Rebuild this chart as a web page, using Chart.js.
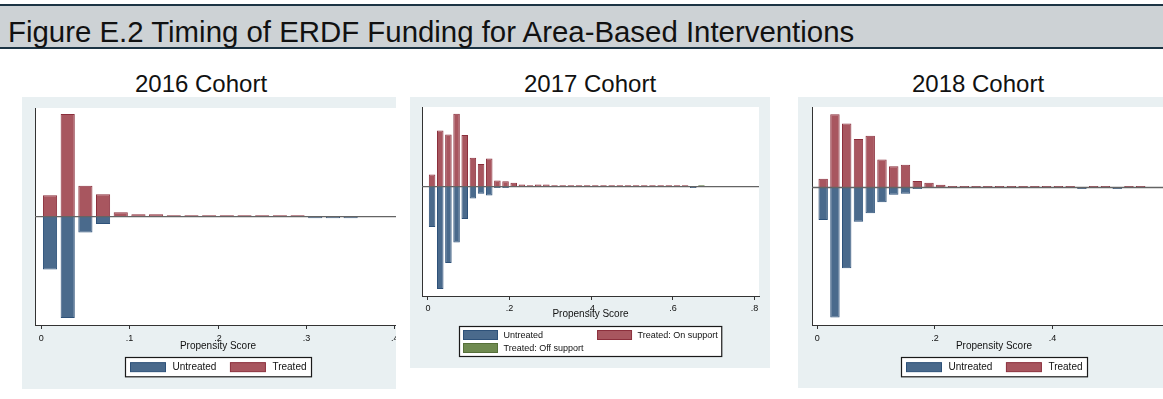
<!DOCTYPE html>
<html>
<head>
<meta charset="utf-8">
<title>Figure E.2 Timing of ERDF Funding</title>
<script src="https://cdn.jsdelivr.net/npm/chart.js@4.4.1/dist/chart.umd.min.js"></script>
<style>
  body { margin: 0; width: 1163px; height: 399px; background: #fff; position: relative; overflow: hidden;
         font-family: "Liberation Sans", Arial, sans-serif; color: #111; }
  .figtitle { position: absolute; left: 0; top: 4px; width: 1163px; height: 41px; background: #cdd2d5;
              border-top: 2px solid #1c3444; border-bottom: 2px solid #1c3444; }
  .figtitle span { position: absolute; left: 8px; top: 11px; font-size: 29.4px; line-height: 29px; white-space: nowrap; }
  .cohort { position: absolute; top: 72px; width: 200px; text-align: center; font-size: 24px; line-height: 24px; }
  .panel { position: absolute; background: #e9f0f2; overflow: hidden; }
  .panel canvas { position: absolute; left: 0; top: 0; }
</style>
</head>
<body>
<div class="figtitle"><span>Figure E.2 Timing of ERDF Funding for Area-Based Interventions</span></div>
<div class="cohort" style="left:101px">2016 Cohort</div>
<div class="cohort" style="left:490px">2017 Cohort</div>
<div class="cohort" style="left:878px">2018 Cohort</div>
<div class="panel" style="left:22px;top:97px;width:374px;height:292px"><canvas id="c2016" width="410" height="292"></canvas></div>
<div class="panel" style="left:410px;top:97px;width:360px;height:271px"><canvas id="c2017" width="360" height="271"></canvas></div>
<div class="panel" style="left:798px;top:97px;width:365px;height:291px"><canvas id="c2018" width="390" height="291"></canvas></div>

<script>
// propensity score bins (centres, width .02) and bar heights per group
var bins2016 = [0.01, 0.03, 0.05, 0.07, 0.09, 0.11, 0.13, 0.15, 0.17, 0.19, 0.21, 0.23, 0.25, 0.27, 0.29, 0.31, 0.33, 0.35];
var treated2016 = [21.4, 102.7, 31, 22.4, 4.5, 2.4, 2.4, 1.5, 1.5, 1.5, 1.5, 1.5, 1.5, 1.5, 1.5, 0, 0, 0];
var untreated2016 = [52.8, 101.4, 15.7, 7.2, 0, 0, 0, 0, 0, 0, 0, 0, 0, 0, 0, 1.5, 1.5, 1.5];

var bins2017 = [0.01, 0.03, 0.05, 0.07, 0.09, 0.11, 0.13, 0.15, 0.17, 0.19, 0.21, 0.23, 0.25, 0.27, 0.29,
                0.31, 0.33, 0.35, 0.37, 0.39, 0.41, 0.43, 0.45, 0.47, 0.49, 0.51, 0.53, 0.55, 0.57, 0.59,
                0.61, 0.63, 0.65, 0.67];
var treated2017 = [12.2, 56.2, 52.2, 72.8, 51.5, 28.8, 22.7, 28, 6.2, 5.3, 3.8, 2.2, 1.4, 2, 2,
                   1.4, 1.4, 1.4, 1.4, 1.4, 1.4, 1.4, 1.4, 1.4, 1.4, 1.4, 1.4, 1.4, 1.4, 1.4,
                   1.4, 1.4, 0, 0];
var untreated2017 = [40.3, 102.5, 76.5, 56, 32.3, 11.8, 7.2, 8.8, 1.4, 1.4, 0, 0, 0, 0, 0,
                     0, 0, 0, 0, 0, 0, 0, 0, 0, 0, 0, 0, 0, 0, 0,
                     0, 0, 1.4, 0];
var offSupport2017 = [0, 0, 0, 0, 0, 0, 0, 0, 0, 0, 0, 0, 0, 0, 0,
                      0, 0, 0, 0, 0, 0, 0, 0, 0, 0, 0, 0, 0, 0, 0,
                      0, 0, 0, 1.4];

var bins2018 = [0.01, 0.03, 0.05, 0.07, 0.09, 0.11, 0.13, 0.15, 0.17, 0.19, 0.21, 0.23, 0.25, 0.27,
                0.29, 0.31, 0.33, 0.35, 0.37, 0.39, 0.41, 0.43, 0.45, 0.47, 0.49, 0.51, 0.53, 0.55];
var treated2018 = [8.7, 73.2, 63.8, 48.5, 51.7, 28, 21.3, 22.8, 6.5, 4.7, 2.7, 1.6, 1.5, 1.5,
                   1.5, 1.5, 1.5, 1.5, 1.5, 1.5, 1.5, 1.5, 0, 1.5, 1.5, 0, 1.5, 1.5];
var untreated2018 = [32.5, 129.8, 80.7, 34.3, 25.8, 14.8, 7.2, 6.3, 1.5, 0, 0, 0, 0, 0,
                     0, 0, 0, 0, 0, 0, 0, 0, 1.5, 0, 0, 1.5, 0, 0];

var ticks2016 = [0, 0.1, 0.2, 0.3, 0.4];
var tickLabels2016 = ['0', '.1', '.2', '.3', '.4'];
var ticks2017 = [0, 0.2, 0.4, 0.6, 0.8];
var tickLabels2017 = ['0', '.2', '.4', '.6', '.8'];
var ticks2018 = [0, 0.2, 0.4, 0.6];
var tickLabels2018 = ['0', '.2', '.4', '.6'];

Chart.defaults.font.family = '"Liberation Sans", Arial, sans-serif';
Chart.defaults.color = '#111';

var NAVY = {fill: '#4a6a8c', line: '#2d5179'};
var MAROON = {fill: '#a8565f', line: '#8b2f3c'};
var OLIVE = {fill: '#6f8a50', line: '#56703a'};

function bars(label, bins, values, sign, col) {
  return {
    label: label,
    data: bins.map(function (b, i) { return {x: b, y: values[i] ? sign * values[i] : null}; }),
    backgroundColor: col.fill,
    borderColor: col.line,
    borderWidth: 1,
    grouped: false,
    categoryPercentage: 0.8,
    barPercentage: 1
  };
}

var plotBg = {
  id: 'plotBg',
  beforeDraw: function (chart) {
    var a = chart.chartArea, ctx = chart.ctx;
    ctx.save();
    ctx.fillStyle = '#fff';
    ctx.fillRect(a.left, a.top, a.right - a.left, a.bottom - a.top);
    ctx.restore();
  }
};

// baseline between treated (up) and untreated (down)
var zeroLine = {
  id: 'zeroLine',
  afterDatasetsDraw: function (chart) {
    var a = chart.chartArea, ctx = chart.ctx;
    var y = chart.scales.y.getPixelForValue(0);
    ctx.save();
    ctx.strokeStyle = '#646464';
    ctx.lineWidth = 1.3;
    ctx.beginPath();
    ctx.moveTo(a.left, y);
    ctx.lineTo(a.right, y);
    ctx.stroke();
    ctx.restore();
  }
};

// stata style legend: white box with black outline, rows of swatch + label
var boxLegend = {
  id: 'boxLegend',
  afterDraw: function (chart, args, opts) {
    var ctx = chart.ctx, a = chart.chartArea, sets = chart.data.datasets;
    ctx.save();
    ctx.font = opts.fontSize + 'px "Liberation Sans", Arial, sans-serif';
    var colW = [];
    opts.rows.forEach(function (row) {
      row.forEach(function (di, c) {
        var w = opts.swatch + opts.gap + ctx.measureText(sets[di].label).width;
        colW[c] = Math.max(colW[c] || 0, w);
      });
    });
    var boxW = opts.pad * 2 + colW.reduce(function (s, w) { return s + w; }, 0) + opts.colGap * (colW.length - 1);
    var boxH = opts.padV * 2 + opts.rowH * opts.rows.length;
    var left = Math.round((a.left + a.right) / 2 - boxW / 2) + 0.5;
    var top = Math.round(a.bottom + opts.offset) + 0.5;
    ctx.fillStyle = '#fff';
    ctx.fillRect(left, top, boxW, boxH);
    ctx.strokeStyle = '#1a1a1a';
    ctx.lineWidth = 1.2;
    ctx.strokeRect(left, top, boxW, boxH);
    ctx.textBaseline = 'middle';
    ctx.lineWidth = 1;
    opts.rows.forEach(function (row, r) {
      var x = left + opts.pad;
      var cy = top + opts.padV + opts.rowH * (r + 0.5);
      row.forEach(function (di, c) {
        var ds = sets[di];
        ctx.fillStyle = ds.backgroundColor;
        ctx.fillRect(x, cy - opts.swatchH / 2, opts.swatch, opts.swatchH);
        ctx.strokeStyle = ds.borderColor;
        ctx.strokeRect(x, cy - opts.swatchH / 2, opts.swatch, opts.swatchH);
        ctx.fillStyle = '#111';
        ctx.fillText(ds.label, x + opts.swatch + opts.gap, cy + 0.5);
        x += colW[c] + opts.colGap;
      });
    });
    ctx.restore();
  }
};

function makePanel(cfg) {
  return new Chart(document.getElementById(cfg.id), {
    type: 'bar',
    data: {datasets: cfg.datasets},
    options: {
      responsive: false,
      animation: false,
      layout: {padding: cfg.pad},
      plugins: {
        legend: {display: false},
        tooltip: {enabled: false},
        boxLegend: cfg.legend
      },
      scales: {
        x: {
          type: 'linear',
          offset: false,
          min: cfg.xMin,
          max: cfg.xMax,
          afterBuildTicks: function (s) { s.ticks = cfg.ticks.map(function (v) { return {value: v}; }); },
          afterFit: function (s) { s.height = cfg.axisH; s.paddingLeft = 0; s.paddingRight = 0; },
          ticks: {
            callback: function (v, i) { return cfg.tickLabels[i]; },
            font: {size: cfg.tickSize},
            color: '#111',
            padding: cfg.tickPad,
            maxRotation: 0,
            autoSkip: false
          },
          grid: {offset: false, drawOnChartArea: false, drawTicks: true, tickLength: 4, color: '#333'},
          border: {color: '#333', width: 1},
          title: {display: true, text: 'Propensity Score', font: {size: cfg.titleSize}, color: '#111', padding: 0}
        },
        y: {
          min: cfg.yMin,
          max: cfg.yMax,
          afterFit: function (s) { s.width = 0; },
          ticks: {display: false},
          grid: {display: false, drawTicks: false},
          border: {color: '#333', width: 1}
        }
      }
    },
    plugins: [plotBg, zeroLine, boxLegend]
  });
}

makePanel({
  id: 'c2016',
  datasets: [
    bars('Untreated', bins2016, untreated2016, -1, NAVY),
    bars('Treated', bins2016, treated2016, 1, MAROON)
  ],
  ticks: ticks2016, tickLabels: tickLabels2016,
  xMin: -0.007, xMax: 0.407, yMin: -108.3, yMax: 108.7,
  pad: {left: 13, top: 11, right: 31, bottom: 37},
  axisH: 27, tickSize: 9, tickPad: 4, titleSize: 10,
  legend: {rows: [[0, 1]], fontSize: 10, swatch: 35, swatchH: 9, gap: 7, colGap: 14, pad: 5, padV: 3, rowH: 13.3, offset: 31.5}
});

makePanel({
  id: 'c2017',
  datasets: [
    bars('Untreated', bins2017, untreated2017, -1, NAVY),
    bars('Treated: On support', bins2017, treated2017, 1, MAROON),
    bars('Treated: Off support', bins2017, offSupport2017, 1, OLIVE)
  ],
  ticks: ticks2017, tickLabels: tickLabels2017,
  xMin: -0.0147, xMax: 0.811, yMin: -109.4, yMax: 79.6,
  pad: {left: 12, top: 10, right: 11, bottom: 48},
  axisH: 24, tickSize: 9, tickPad: 3, titleSize: 10,
  legend: {rows: [[0, 1], [2]], fontSize: 9, swatch: 34, swatchH: 9, gap: 6, colGap: 14, pad: 4, padV: 2, rowH: 13, offset: 30}
});

makePanel({
  id: 'c2018',
  datasets: [
    bars('Untreated', bins2018, untreated2018, -1, NAVY),
    bars('Treated', bins2018, treated2018, 1, MAROON)
  ],
  ticks: ticks2018, tickLabels: tickLabels2018,
  xMin: -0.009, xMax: 0.61, yMin: -137.3, yMax: 80.4,
  pad: {left: 14, top: 10, right: 12, bottom: 36},
  axisH: 27, tickSize: 9, tickPad: 4, titleSize: 10,
  legend: {rows: [[0, 1]], fontSize: 10, swatch: 35, swatchH: 9, gap: 7, colGap: 14, pad: 5, padV: 3, rowH: 13.3, offset: 31.5}
});
</script>
</body>
</html>
